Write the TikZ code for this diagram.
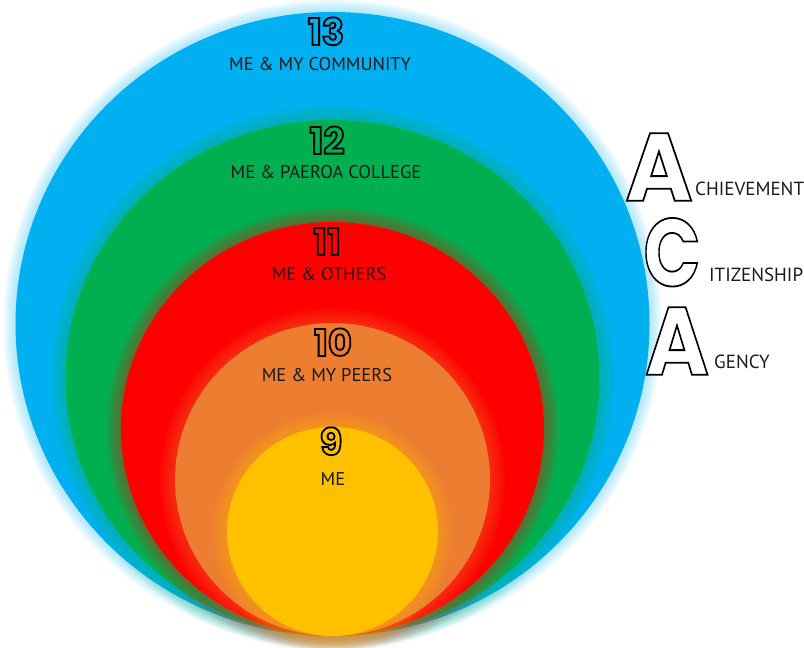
\documentclass[tikz,border=0pt]{standalone}
\usepackage{fontspec}
\setmainfont{PT Sans}
\newfontfamily\bigfont{Poppins}

\definecolor{cblue}{HTML}{00B0F0}
\definecolor{cgreen}{HTML}{00B050}
\definecolor{cred}{HTML}{FF0000}
\definecolor{corange}{HTML}{ED7D31}
\definecolor{cyellow}{HTML}{FFC000}
\definecolor{ink}{HTML}{1A1A1A}

\tikzstyle{level} = [text=ink, font=\fontsize{18.5}{18.5}\selectfont, inner sep=0pt, text height=9pt, text depth=0pt]
\tikzstyle{number} = [inner sep=0pt, font=\bigfont\bfseries\fontsize{37}{37}\selectfont, text height=26pt, text depth=0pt]
\tikzstyle{initial} = [inner sep=0pt, font=\bigfont\bfseries\fontsize{96}{96}\selectfont, text depth=0pt]
\tikzstyle{word} = [text=ink, font=\fontsize{19}{19}\selectfont, inner sep=0pt, anchor=west]

% letters filled with a colour and outlined in black
\newcommand{\hollow}[2]{{\color{#1}\special{pdf:literal direct q 2 Tr 1.8 w 0 G}#2\special{pdf:literal direct Q}}}

% glowing disc: colour, x radius, y radius, centre y
\newcommand{\glowdisc}[4]{
  \foreach \g in {1,...,6}
    \fill[#1, opacity=0.065] (332.5,#4) ellipse ({#2+2.5*\g} and {#3+2.5*\g});
  \fill[#1] (332.5,#4) ellipse (#2 and #3);
}

\begin{document}
\begin{tikzpicture}[x=1pt, y=1pt]
  \useasboundingbox (0,0) rectangle (804,648);

  \foreach \g in {1,...,6}
    \fill[cblue!60, opacity=0.1] (332.5,324) ellipse ({317+2*\g} and {312+2*\g});
  \fill[cblue] (332.5,324) ellipse (317 and 312);
  \glowdisc{cgreen}{267}{258}{270}
  \glowdisc{cred}{211.5}{207}{219}
  \glowdisc{corange}{157.5}{156.5}{168.5}
  \glowdisc{cyellow}{105.5}{104.5}{116.5}

  \node (n13) [number] at (326,616) {\hollow{cblue}{13}};
  \node (l13) [level] at (320,582) {ME \& MY COMMUNITY};
  \node (n12) [number] at (327,507) {\hollow{cgreen}{12}};
  \node (l12) [level] at (326,474) {ME \& PAEROA COLLEGE};
  \node (n11) [number] at (327,406) {\hollow{cred}{11}};
  \node (l11) [level] at (329,372) {ME \& OTHERS};
  \node (n10) [number] at (333,305) {\hollow{corange}{10}};
  \node (l10) [level] at (327,271) {ME \& MY PEERS};
  \node (n9) [number] at (331,206) {\hollow{cyellow}{9}};
  \node (l9) [level] at (333,167) {ME};

  \node (achieve) [initial, xscale=0.95] at (659,481) {\hollow{white}{A}};
  \node (wachieve) [word] at (695,459) {CHIEVEMENT};
  \node (citizen) [initial, xscale=0.78] at (672,396) {\hollow{white}{C}};
  \node (wcitizen) [word] at (709,373) {ITIZENSHIP};
  \node (agency) [initial, xscale=0.9] at (677,307) {\hollow{white}{A}};
  \node (wagency) [word] at (714,286) {GENCY};

\end{tikzpicture}
\end{document}
